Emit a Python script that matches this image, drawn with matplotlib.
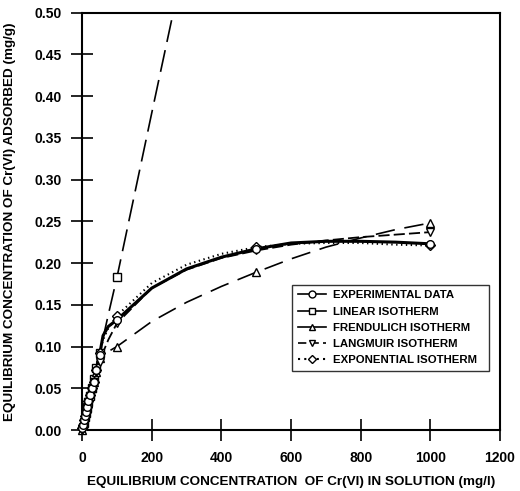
import matplotlib
matplotlib.use("Agg")
import matplotlib.pyplot as plt
from matplotlib.lines import Line2D

plt.rcParams["font.family"] = "Liberation Sans"
plt.rcParams["font.weight"] = "bold"
plt.rcParams["lines.scale_dashes"] = False

# measured concentrations (markers)
conc = [0, 2, 5, 8, 11, 14, 18, 22, 27, 33, 40, 50, 100, 500, 1000]
exp_pts = [0.002, 0.006, 0.012, 0.017, 0.022, 0.028, 0.035, 0.042, 0.05, 0.058, 0.072, 0.09, 0.132, 0.217, 0.223]
lin_pts = [0, 0.004, 0.009, 0.015, 0.02, 0.026, 0.033, 0.041, 0.05, 0.061, 0.074, 0.092, 0.183, 0.97, 1.95]
fre_pts = [0, 0.006, 0.013, 0.019, 0.024, 0.03, 0.037, 0.043, 0.05, 0.058, 0.07, 0.086, 0.1, 0.189, 0.248]
lan_pts = [0, 0.004, 0.01, 0.016, 0.021, 0.027, 0.034, 0.041, 0.049, 0.058, 0.07, 0.082, 0.128, 0.215, 0.237]
xpo_pts = [0.002, 0.006, 0.012, 0.017, 0.022, 0.028, 0.035, 0.042, 0.05, 0.058, 0.072, 0.092, 0.137, 0.219, 0.221]

# curves
fit_conc = [0, 5, 11, 18, 27, 40, 50, 60, 75, 100, 200, 300, 400, 500, 600, 700, 800, 900, 1000]
exp_line = [0.002, 0.012, 0.022, 0.035, 0.05, 0.072, 0.09, 0.113, 0.124, 0.132, 0.17, 0.193, 0.207, 0.217, 0.224, 0.226, 0.226, 0.225, 0.223]
lin_line = [0, 0.009, 0.02, 0.033, 0.05, 0.074, 0.092, 0.11, 0.138, 0.183, 0.38, 0.575, 0.77, 0.97, 1.16, 1.36, 1.56, 1.75, 1.95]
fre_line = [0, 0.013, 0.024, 0.037, 0.05, 0.07, 0.086, 0.09, 0.094, 0.1, 0.13, 0.153, 0.172, 0.189, 0.205, 0.219, 0.23, 0.24, 0.248]
lan_line = [0, 0.01, 0.021, 0.034, 0.049, 0.07, 0.082, 0.093, 0.108, 0.128, 0.17, 0.192, 0.206, 0.215, 0.222, 0.227, 0.231, 0.234, 0.237]
xpo_line = [0.002, 0.012, 0.022, 0.035, 0.05, 0.072, 0.092, 0.108, 0.122, 0.137, 0.176, 0.198, 0.211, 0.219, 0.223, 0.224, 0.224, 0.222, 0.221]

labels = ["EXPERIMENTAL DATA", "LINEAR ISOTHERM", "FRENDULICH ISOTHERM",
          "LANGMUIR ISOTHERM", "EXPONENTIAL ISOTHERM"]

fig = plt.figure(figsize=(5.2, 4.91), dpi=100)
ax = fig.add_axes([0.158, 0.1242, 0.8035, 0.8503])

mk = dict(markerfacecolor="white", markeredgecolor="black", markeredgewidth=1.0,
          markersize=5.5, linestyle="none", zorder=4)

ax.plot(fit_conc, lin_line, color="black", lw=1.2, dashes=(16, 6))
ax.plot(fit_conc, fre_line, color="black", lw=1.2, dashes=(14, 7))
ax.plot(fit_conc, lan_line, color="black", lw=1.3, dashes=(8, 3))
ax.plot(fit_conc, xpo_line, color="black", lw=1.5, dashes=(1, 2.5))
ax.plot(fit_conc, exp_line, color="black", lw=2.2)

ax.plot(conc, lin_pts, marker="s", **mk)
ax.plot(conc, fre_pts, marker="^", clip_on=False, **mk)
ax.plot(conc, lan_pts, marker="v", clip_on=False, **mk)
ax.plot(conc, xpo_pts, marker="D", clip_on=False, **dict(mk, markersize=5))
ax.plot(conc, exp_pts, marker="o", clip_on=False, **mk)

ax.set_xlim(0, 1200)
ax.set_ylim(0, 0.5)
ax.set_xticks(range(0, 1201, 200))
ax.set_yticks([i * 0.05 for i in range(11)])
ax.set_yticklabels(["%.2f" % (i * 0.05) for i in range(11)])
ax.tick_params(direction="inout", length=16, width=1.2, labelsize=10)
ax.tick_params(axis="x", pad=7)
ax.tick_params(axis="y", pad=7)
for s in ax.spines.values():
    s.set_linewidth(1.5)

ax.set_xlabel("EQUILIBRIUM CONCENTRATION  OF Cr(VI) IN SOLUTION (mg/l)",
              fontsize=9.7, fontweight="bold", labelpad=8)
ax.set_ylabel("EQUILIBRIUM CONCENTRATION OF Cr(VI) ADSORBED (mg/g)",
              fontsize=9.7, fontweight="bold", labelpad=13)

handles = [
    Line2D([], [], color="black", lw=1.2, marker="o", markerfacecolor="white", markersize=5),
    Line2D([], [], color="black", lw=1.2, marker="s", markerfacecolor="white", markersize=5),
    Line2D([], [], color="black", lw=1.2, marker="^", markerfacecolor="white", markersize=5),
    Line2D([], [], color="black", lw=1.2, marker="v", markerfacecolor="white", markersize=5, dashes=(6, 3)),
    Line2D([], [], color="black", lw=1.5, marker="D", markerfacecolor="white", markersize=4.5, dashes=(1.5, 3)),
]
leg = ax.legend(handles, labels, loc="lower left", bbox_to_anchor=(0.502, 0.141, 0.472, 0.201),
                mode="expand", borderaxespad=0, fontsize=8.2, frameon=True, fancybox=False,
                edgecolor="black", handlelength=2.5, handletextpad=0.6, borderpad=0.5,
                labelspacing=0.55)
leg.get_frame().set_linewidth(1.0)

fig.savefig("out.png", dpi=100)
